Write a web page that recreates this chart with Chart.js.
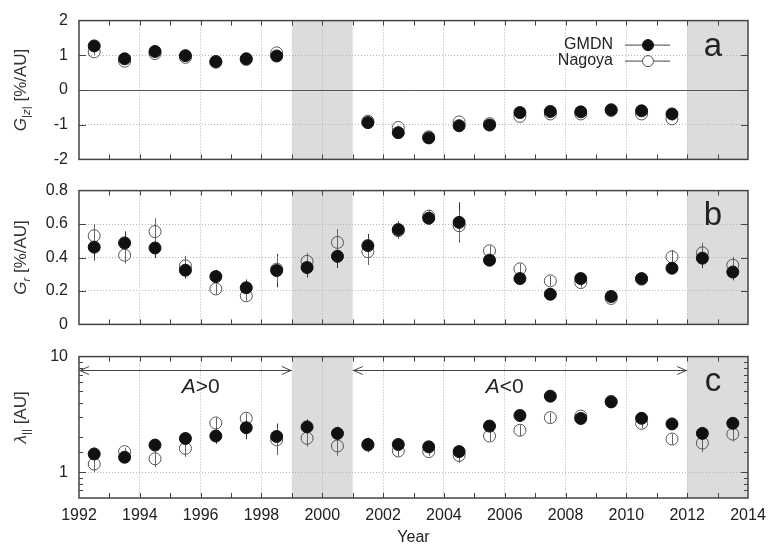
<!DOCTYPE html>
<html>
<head>
<meta charset="utf-8">
<script src="https://cdn.jsdelivr.net/npm/chart.js@4.4.1/dist/chart.umd.min.js"></script>
<style>
  body { margin: 0; background: #fff; width: 768px; height: 548px; overflow: hidden; position: relative; }
  canvas { position: absolute; left: 0; }
</style>
</head>
<body>
<canvas id="chartA" width="768" height="180" style="top:0px"></canvas>
<canvas id="chartB" width="768" height="175" style="top:170px"></canvas>
<canvas id="chartC" width="768" height="212" style="top:336px"></canvas>
<script>
// yearly bins (centre of each year)
const years = [1992.5, 1993.5, 1994.5, 1995.5, 1996.5, 1997.5, 1998.5, 1999.5, 2000.5, 2001.5, 2002.5,
               2003.5, 2004.5, 2005.5, 2006.5, 2007.5, 2008.5, 2009.5, 2010.5, 2011.5, 2012.5, 2013.5];
const yearTicks = [1992, 1994, 1996, 1998, 2000, 2002, 2004, 2006, 2008, 2010, 2012, 2014];
const shadedPeriods = [[1999, 2001], [2012, 2014]];

// panel a : G|z|
const gzTicks = [-2, -1, 0, 1, 2];
const gzGMDN   = [1.27, 0.90, 1.11, 0.99, 0.82, 0.90, 0.98, null, null, -0.94, -1.23, -1.38, -1.03, -1.01, -0.65, -0.62, -0.63, -0.57, -0.60, -0.69, null, null];
const gzNagoya = [1.10, 0.83, 1.05, 0.94, 0.80, 0.88, 1.07, null, null, -0.90, -1.08, -1.35, -0.92, -0.97, -0.76, -0.69, -0.69, -0.59, -0.69, -0.83, null, null];
const gzGMDNErr   = [0.05, 0.04, 0.04, 0.04, 0.04, 0.04, 0.04, null, null, 0.04, 0.04, 0.04, 0.04, 0.04, 0.04, 0.04, 0.04, 0.04, 0.04, 0.04, null, null];
const gzNagoyaErr = [0.10, 0.05, 0.05, 0.05, 0.05, 0.05, 0.05, null, null, 0.05, 0.06, 0.05, 0.05, 0.05, 0.05, 0.05, 0.05, 0.05, 0.05, 0.05, null, null];

// panel b : Gr
const grTicks = [0, 0.2, 0.4, 0.6, 0.8];
const grGMDN   = [0.462, 0.487, 0.457, 0.324, 0.286, 0.219, 0.322, 0.340, 0.407, 0.471, 0.567, 0.635, 0.610, 0.384, 0.274, 0.180, 0.274, 0.167, 0.274, 0.336, 0.396, 0.313];
const grNagoya = [0.530, 0.414, 0.555, 0.350, 0.212, 0.171, 0.330, 0.377, 0.490, 0.435, 0.560, 0.647, 0.590, 0.440, 0.332, 0.260, 0.250, 0.155, 0.270, 0.404, 0.428, 0.354];
const grGMDNErr   = [0.08, 0.07, 0.06, 0.05, 0.04, 0.05, 0.10, 0.06, 0.07, 0.07, 0.05, 0.04, 0.12, 0.03, 0.03, 0.02, 0.03, 0.02, 0.02, 0.03, 0.06, 0.05];
const grNagoyaErr = [0.07, 0.05, 0.08, 0.06, 0.03, 0.03, 0.08, 0.05, 0.08, 0.08, 0.05, 0.04, 0.09, 0.03, 0.03, 0.03, 0.03, 0.02, 0.02, 0.04, 0.06, 0.05];

// panel c : lambda parallel
const lamTickLabels = [1, 10];
const lamGMDN   = [1.44, 1.35, 1.72, 1.96, 2.06, 2.43, 2.04, 2.47, 2.17, 1.74, 1.74, 1.66, 1.51, 2.51, 3.10, 4.55, 2.92, 4.06, 2.93, 2.62, 2.17, 2.65];
const lamNagoya = [1.18, 1.51, 1.31, 1.61, 2.67, 2.93, 1.91, 1.97, 1.69, 1.72, 1.53, 1.51, 1.40, 2.06, 2.31, 2.97, 3.06, 4.10, 2.65, 1.94, 1.79, 2.14];
const lamGMDNErr   = [0.20, 0.13, 0.15, 0.25, 0.30, 0.50, 0.60, 0.40, 0.30, 0.25, 0.15, 0.12, 0.20, 0.15, 0.20, 0.40, 0.15, 0.20, 0.20, 0.15, 0.25, 0.30];
const lamNagoyaErr = [0.17, 0.12, 0.20, 0.25, 0.30, 0.30, 0.50, 0.30, 0.30, 0.20, 0.15, 0.12, 0.20, 0.20, 0.25, 0.30, 0.15, 0.20, 0.25, 0.20, 0.30, 0.30];

// polarity arrows in panel c
const polaritySpans  = [[1992, 1999], [2001, 2012]];
const polarityLabels = [['A', '>0'], ['A', '<0']];
const polarityLabelX = [1996, 2006];
const arrowLevel = 7.7;
const labelLevel = 5.4;

const FONT = '"Liberation Sans", Arial, Helvetica, sans-serif';
const INK = '#222';
const FRAME = '#444';
const SHADE = '#dcdcde';

function series(label, values, errs, filled) {
  return {
    label: label,
    data: years.map((x, i) => ({ x: x, y: values[i] })),
    errors: errs,
    showLine: false,
    pointRadius: 6,
    pointHoverRadius: 6,
    pointBackgroundColor: filled ? '#111' : 'rgba(0,0,0,0)',
    pointBorderColor: filled ? '#111' : '#555',
    pointBorderWidth: 1,
    errColor: filled ? '#333' : '#666'
  };
}

function xScale(withLabels) {
  return {
    type: 'linear', min: 1992, max: 2014,
    afterBuildTicks: s => { s.ticks = yearTicks.map(v => ({ value: v })); },
    afterFit: s => { s.height = withLabels ? 50 : 0; s.paddingLeft = 0; s.paddingRight = 0; },
    grid: {
      color: c => (c.tick && (c.tick.value === 1992 || c.tick.value === 2014)) ? 'rgba(0,0,0,0)' : '#b4b4b4',
      lineWidth: 1, drawTicks: false
    },
    border: { display: false, dash: [1, 2] },
    ticks: { display: withLabels, padding: 8, color: INK, font: { family: FONT, size: 16 }, maxRotation: 0, autoSkip: false,
             callback: v => String(v) },
    title: { display: withLabels, text: 'Year', color: INK, font: { family: FONT, size: 16 }, padding: { top: 0, bottom: 1 } }
  };
}

function yLinear(tickList, hideValues) {
  return {
    type: 'linear', min: tickList[0], max: tickList[tickList.length - 1],
    afterBuildTicks: s => { s.ticks = tickList.map(v => ({ value: v })); },
    afterFit: s => { s.width = 79; },
    grid: {
      color: c => (c.tick && hideValues.includes(c.tick.value)) ? 'rgba(0,0,0,0)' : '#b4b4b4',
      lineWidth: 1, drawTicks: false
    },
    border: { display: false, dash: [1, 2] },
    ticks: { padding: 11, color: INK, font: { family: FONT, size: 16 }, callback: v => String(Math.round(v * 10) / 10) }
  };
}

function richWidth(ctx, parts, size) {
  let w = 0;
  parts.forEach(p => {
    const s = p.sub ? size * 0.68 : size;
    ctx.font = (p.it ? 'italic ' : '') + s + 'px ' + FONT;
    w += ctx.measureText(p.t).width;
  });
  return w;
}

function drawRich(ctx, parts, size, x, y) {
  parts.forEach(p => {
    const s = p.sub ? size * 0.68 : size;
    ctx.font = (p.it ? 'italic ' : '') + s + 'px ' + FONT;
    ctx.fillText(p.t, x, p.sub ? y + size * 0.32 : y);
    x += ctx.measureText(p.t).width;
  });
}

function makeDecor(cfg) {
  return {
    id: 'decor',
    beforeDraw(chart) {
      const { ctx, chartArea: a, scales: { x } } = chart;
      ctx.save();
      ctx.fillStyle = SHADE;
      shadedPeriods.forEach(([s, e]) => {
        const x0 = x.getPixelForValue(s), x1 = x.getPixelForValue(e);
        ctx.fillRect(x0, a.top, x1 - x0, a.bottom - a.top);
      });
      ctx.restore();
    },
    beforeDatasetsDraw(chart) {
      const { ctx, chartArea: a, scales: { x, y } } = chart;
      ctx.save();
      ctx.beginPath();
      ctx.rect(a.left, a.top, a.right - a.left, a.bottom - a.top);
      ctx.clip();
      if (cfg.zeroLine) {
        const py = Math.round(y.getPixelForValue(0)) + 0.5;
        ctx.strokeStyle = '#555';
        ctx.lineWidth = 1;
        ctx.beginPath(); ctx.moveTo(a.left, py); ctx.lineTo(a.right, py); ctx.stroke();
      }
      // error bars
      chart.data.datasets.forEach(ds => {
        ctx.strokeStyle = ds.errColor;
        ctx.lineWidth = 1;
        ds.data.forEach((p, i) => {
          if (p.y == null || ds.errors[i] == null) return;
          const px = Math.round(x.getPixelForValue(p.x)) + 0.5;
          ctx.beginPath();
          ctx.moveTo(px, y.getPixelForValue(p.y - ds.errors[i]));
          ctx.lineTo(px, y.getPixelForValue(p.y + ds.errors[i]));
          ctx.stroke();
        });
      });
      // polarity arrows
      if (cfg.arrows) {
        const py = Math.round(y.getPixelForValue(arrowLevel)) + 0.5;
        ctx.strokeStyle = '#444';
        ctx.lineWidth = 1;
        polaritySpans.forEach(([s, e], k) => {
          const x0 = x.getPixelForValue(s), x1 = x.getPixelForValue(e);
          ctx.beginPath();
          ctx.moveTo(x0, py); ctx.lineTo(x1, py);
          ctx.moveTo(x0 + 10, py - 4); ctx.lineTo(x0 + 1, py); ctx.lineTo(x0 + 10, py + 4);
          ctx.moveTo(x1 - 10, py - 4); ctx.lineTo(x1 - 1, py); ctx.lineTo(x1 - 10, py + 4);
          ctx.stroke();
          const lbl = polarityLabels[k];
          const parts = [{ t: lbl[0], it: true }, { t: lbl[1] }];
          ctx.fillStyle = INK;
          ctx.textBaseline = 'middle';
          ctx.textAlign = 'left';
          const w = richWidth(ctx, parts, 21);
          drawRich(ctx, parts, 21, x.getPixelForValue(polarityLabelX[k]) - w / 2, y.getPixelForValue(labelLevel));
        });
      }
      ctx.restore();
    },
    afterDraw(chart) {
      const { ctx, chartArea: a, scales: { x, y } } = chart;
      ctx.save();
      ctx.strokeStyle = FRAME;
      ctx.lineWidth = 1;
      // inward ticks on x
      ctx.beginPath();
      for (let v = Math.ceil(x.min) + 1; v < x.max; v++) {
        const px = Math.round(x.getPixelForValue(v)) + 0.5;
        ctx.moveTo(px, a.bottom); ctx.lineTo(px, a.bottom - 5);
        ctx.moveTo(px, a.top); ctx.lineTo(px, a.top + 5);
      }
      // inward ticks on y
      y.ticks.forEach(t => {
        if (t.value <= y.min || t.value >= y.max) return;
        const len = (cfg.log && !t.major) ? 4 : 7;
        const py = Math.round(y.getPixelForValue(t.value)) + 0.5;
        ctx.moveTo(a.left, py); ctx.lineTo(a.left + len, py);
        ctx.moveTo(a.right, py); ctx.lineTo(a.right - len, py);
      });
      ctx.stroke();
      // frame
      ctx.lineWidth = 1.5;
      ctx.strokeRect(a.left, a.top, a.right - a.left, a.bottom - a.top);

      // y title
      ctx.fillStyle = '#333';
      ctx.textBaseline = 'middle';
      ctx.textAlign = 'left';
      const w = richWidth(ctx, cfg.title, 17);
      ctx.translate(21, (a.top + a.bottom) / 2 + (cfg.titleShift || 0));
      ctx.rotate(-Math.PI / 2);
      drawRich(ctx, cfg.title, 17, -w / 2, 0);
      ctx.setTransform(1, 0, 0, 1, 0, 0);

      // panel letter
      ctx.font = '33px ' + FONT;
      ctx.fillStyle = '#222';
      ctx.textAlign = 'center';
      ctx.textBaseline = 'alphabetic';
      ctx.fillText(cfg.letter, a.right - 35, a.top + cfg.letterY);

      // legend
      if (cfg.legend) {
        chart.data.datasets.forEach((ds, i) => {
          const ly = a.top + 24 + i * 16;
          ctx.font = '16px ' + FONT;
          ctx.fillStyle = '#222';
          ctx.textAlign = 'right';
          ctx.textBaseline = 'middle';
          ctx.fillText(ds.label, a.right - 135, ly);
          ctx.strokeStyle = '#444';
          ctx.lineWidth = 1;
          ctx.beginPath();
          ctx.moveTo(a.right - 123, ly + 0.5); ctx.lineTo(a.right - 78, ly + 0.5);
          ctx.stroke();
          ctx.beginPath();
          ctx.arc(a.right - 100, ly + 0.5, 5.5, 0, Math.PI * 2);
          ctx.fillStyle = ds.pointBackgroundColor !== 'rgba(0,0,0,0)' ? ds.pointBackgroundColor : '#fff';
          ctx.fill();
          ctx.strokeStyle = ds.pointBorderColor;
          ctx.stroke();
        });
      }
      ctx.restore();
    }
  };
}

function baseOptions(padding, scales) {
  return {
    responsive: false,
    animation: false,
    events: [],
    layout: { padding: padding },
    plugins: { legend: { display: false }, tooltip: { enabled: false } },
    scales: scales
  };
}

new Chart(document.getElementById('chartA'), {
  type: 'scatter',
  data: { datasets: [series('GMDN', gzGMDN, gzGMDNErr, true), series('Nagoya', gzNagoya, gzNagoyaErr, false)] },
  options: baseOptions({ top: 18, bottom: 13, left: 0, right: 20 },
                       { x: xScale(false), y: yLinear(gzTicks, [0]) }),
  plugins: [makeDecor({
    zeroLine: true, legend: true, letter: 'a', letterY: 35,
    title: [{ t: 'G', it: true }, { t: '|', sub: true }, { t: 'z', sub: true, it: true }, { t: '|', sub: true }, { t: ' [%/AU]' }]
  })]
});

new Chart(document.getElementById('chartB'), {
  type: 'scatter',
  data: { datasets: [series('GMDN', grGMDN, grGMDNErr, true), series('Nagoya', grNagoya, grNagoyaErr, false)] },
  options: baseOptions({ top: 13, bottom: 12, left: 0, right: 20 },
                       { x: xScale(false), y: yLinear(grTicks, []) }),
  plugins: [makeDecor({
    letter: 'b', letterY: 34,
    title: [{ t: 'G', it: true }, { t: 'r', sub: true, it: true }, { t: ' [%/AU]' }]
  })]
});

new Chart(document.getElementById('chartC'), {
  type: 'scatter',
  data: { datasets: [series('GMDN', lamGMDN, lamGMDNErr, true), series('Nagoya', lamNagoya, lamNagoyaErr, false)] },
  options: baseOptions({ top: 13, bottom: 0, left: 0, right: 20 }, {
    x: xScale(true),
    y: {
      type: 'logarithmic', min: 0.6, max: 10,
      afterFit: s => { s.width = 79; },
      grid: { color: c => (c.tick && c.tick.value === 1) ? '#b4b4b4' : 'rgba(0,0,0,0)', lineWidth: 1, drawTicks: false },
      border: { display: false, dash: [1, 2] },
      ticks: { padding: 11, color: INK, font: { family: FONT, size: 16 }, autoSkip: false,
               callback: v => lamTickLabels.includes(v) ? String(v) : '' }
    }
  }),
  plugins: [makeDecor({
    log: true, arrows: true, letter: 'c', letterY: 34, titleShift: -10,
    title: [{ t: 'λ', it: true }, { t: '||', sub: true }, { t: ' [AU]' }]
  })]
});
</script>
</body>
</html>
